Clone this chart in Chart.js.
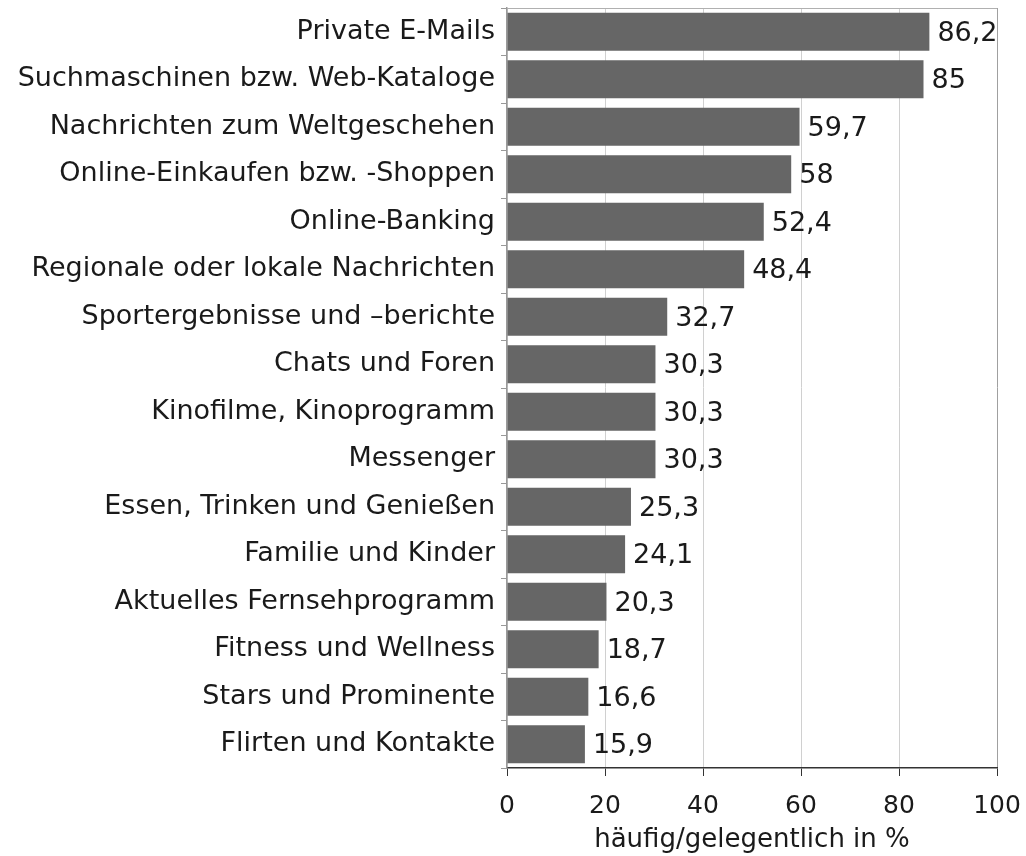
<!DOCTYPE html>
<html>
<head>
<meta charset="utf-8">
<script src="https://cdn.jsdelivr.net/npm/chart.js@4"></script>
<style>
  html, body { margin: 0; padding: 0; background: #fff; }
  #wrap { width: 1026px; height: 856px; }
</style>
</head>
<body>
<div id="wrap"><canvas id="myChart" width="1026" height="856"></canvas></div>
<script>
const kategorien = [
  "Private E-Mails",
  "Suchmaschinen bzw. Web-Kataloge",
  "Nachrichten zum Weltgeschehen",
  "Online-Einkaufen bzw. -Shoppen",
  "Online-Banking",
  "Regionale oder lokale Nachrichten",
  "Sportergebnisse und \u2013berichte",
  "Chats und Foren",
  "Kinofilme, Kinoprogramm",
  "Messenger",
  "Essen, Trinken und Genießen",
  "Familie und Kinder",
  "Aktuelles Fernsehprogramm",
  "Fitness und Wellness",
  "Stars und Prominente",
  "Flirten und Kontakte"
];
const werte = [86.2, 85, 59.7, 58, 52.4, 48.4, 32.7, 30.3, 30.3, 30.3, 25.3, 24.1, 20.3, 18.7, 16.6, 15.9];
const xTicks = [0, 20, 40, 60, 80, 100];
const achsenTitel = "häufig/gelegentlich in %";

const schrift = "'DejaVu Sans', Verdana, sans-serif";
const textFarbe = "#1a1a1a";

// Werte rechts neben die Balken schreiben
const wertLabels = {
  id: 'wertLabels',
  afterDatasetsDraw(chart) {
    const c = chart.ctx;
    const meta = chart.getDatasetMeta(0);
    c.save();
    c.font = "27px " + schrift;
    c.fillStyle = textFarbe;
    c.textAlign = 'left';
    c.textBaseline = 'middle';
    meta.data.forEach((bar, i) => {
      const txt = String(werte[i]).replace('.', ',');
      c.fillText(txt, bar.x + 8, bar.y + 2);
    });
    c.restore();
  }
};

// grauer Rahmen oben
const rahmen = {
  id: 'rahmen',
  beforeDatasetsDraw(chart) {
    const a = chart.chartArea;
    const c = chart.ctx;
    c.save();
    c.strokeStyle = '#b0b0b0';
    c.lineWidth = 1;
    c.beginPath();
    c.moveTo(a.left, a.top + 0.5);
    c.lineTo(a.right, a.top + 0.5);
    c.stroke();
    c.restore();
  }
};

const ctx = document.getElementById('myChart');
const chart = new Chart(ctx, {
  type: 'bar',
  data: {
    labels: kategorien,
    datasets: [{
      data: werte,
      backgroundColor: '#666666',
      borderWidth: 0,
      barPercentage: 0.8,
      categoryPercentage: 1
    }]
  },
  options: {
    indexAxis: 'y',
    responsive: false,
    animation: false,
    layout: { padding: { top: 8, right: 29, left: 0, bottom: 0 } },
    plugins: {
      legend: { display: false },
      tooltip: { enabled: false }
    },
    scales: {
      x: {
        min: 0,
        max: 100,
        afterBuildTicks: (scale) => { scale.ticks = xTicks.map(v => ({ value: v })); },
        afterFit: (scale) => {
          scale.height = 88;
          scale.paddingLeft = 0;
          scale.paddingRight = 0;
        },
        grid: {
          color: (c) => c.tick && c.tick.value === 100 ? '#a0a0a0' : '#d0d0d0',
          tickColor: '#333',
          tickLength: 8,
          lineWidth: 1
        },
        border: { color: '#333', width: 1.5 },
        ticks: {
          color: textFarbe,
          font: { family: schrift, size: 25 },
          padding: 15
        },
        title: {
          display: true,
          text: achsenTitel,
          color: textFarbe,
          font: { family: schrift, size: 26 },
          padding: { top: 0, bottom: 0 }
        }
      },
      y: {
        afterFit: (scale) => {
          scale.width = 507;
          scale.paddingTop = 0;
          scale.paddingBottom = 0;
        },
        grid: {
          offset: true,
          drawOnChartArea: false,
          tickColor: '#999',
          tickLength: 6
        },
        border: { color: '#999', width: 1.5 },
        ticks: {
          color: textFarbe,
          font: { family: schrift, size: 27 },
          padding: 6,
          autoSkip: false
        }
      }
    }
  },
  plugins: [rahmen, wertLabels]
});
</script>
</body>
</html>
